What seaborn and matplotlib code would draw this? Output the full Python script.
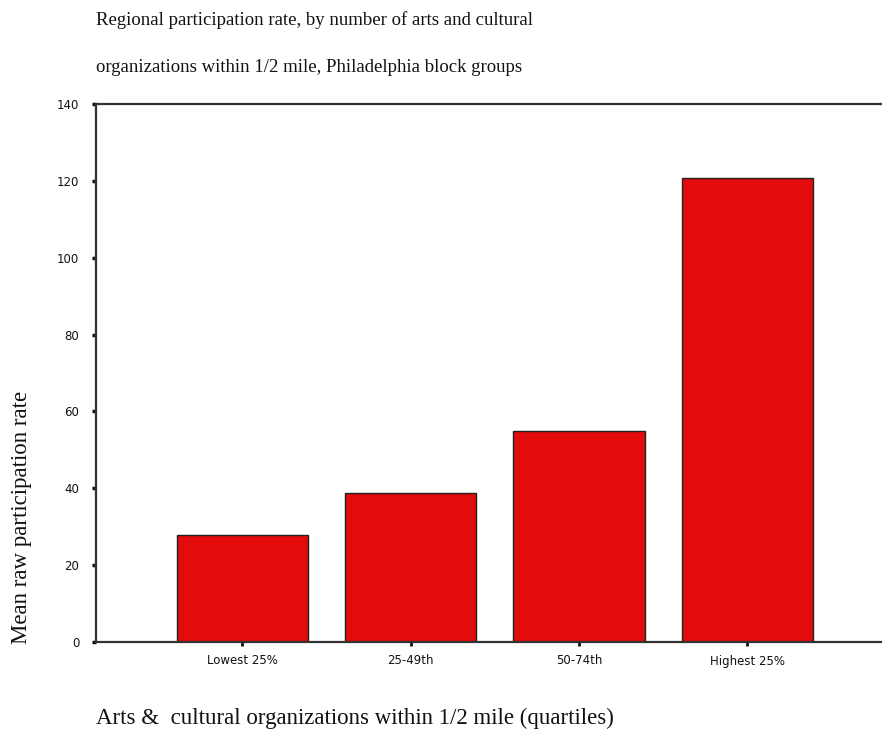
import matplotlib
matplotlib.use("Agg")
import matplotlib.pyplot as plt
import seaborn as sns
import pandas as pd

# Quartile groups and their mean raw participation rate
quartiles = ["Lowest 25%", "25-49th", "50-74th", "Highest 25%"]
mean_rate = [27.8, 38.8, 54.9, 120.8]
y_ticks = [0, 20, 40, 60, 80, 100, 120, 140]

sns.set_theme(style="white")
plt.rcParams["font.family"] = ["Liberation Serif", "DejaVu Serif"]

df = pd.DataFrame({"quartile": quartiles, "rate": mean_rate})

fig = plt.figure(figsize=(8.82, 7.38), dpi=100)
ax = fig.add_axes([96 / 882, 1 - 642 / 738, 1 - 96 / 882, (642 - 104) / 738])

sns.barplot(data=df, x="quartile", y="rate", color="#E30B0B", saturation=1,
            width=0.78, edgecolor="#202020", linewidth=1.0, ax=ax)

ax.set_xlim(-0.87, 3.80)
ax.set_ylim(0, 140)
ax.set_yticks(y_ticks)
ax.set_yticklabels([str(v) for v in y_ticks], fontsize=8.5, family="DejaVu Sans")
ax.set_xticks(range(len(quartiles)))
ax.set_xticklabels(quartiles, fontsize=8.5, family="DejaVu Sans")
ax.tick_params(axis="y", left=True, direction="out", length=3, width=2.5,
               color="#111111", pad=9, labelcolor="#111111")
ax.tick_params(axis="x", bottom=True, direction="out", length=3, width=2,
               color="#111111", pad=6, labelcolor="#111111")

for side in ("left", "top", "bottom"):
    ax.spines[side].set_visible(True)
    ax.spines[side].set_linewidth(1.6)
    ax.spines[side].set_color("#333333")
ax.spines["right"].set_visible(False)

ax.set_xlabel("")
ax.set_ylabel("")

fig.text(96 / 882, 1 - 20 / 738,
         "Regional participation rate, by number of arts and cultural",
         ha="left", va="center", fontsize=13.5, color="#111111")
fig.text(96 / 882, 1 - 68 / 738,
         "organizations within 1/2 mile, Philadelphia block groups",
         ha="left", va="center", fontsize=13.5, color="#111111")
fig.text(96 / 882, 1 - 718 / 738,
         "Arts &  cultural organizations within 1/2 mile (quartiles)",
         ha="left", va="center", fontsize=16.5, color="#111111")
fig.text(22 / 882, 1 - 517 / 738, "Mean raw participation rate",
         ha="center", va="center", rotation=90, fontsize=16.5, color="#111111")

fig.savefig("out.png", dpi=100)
